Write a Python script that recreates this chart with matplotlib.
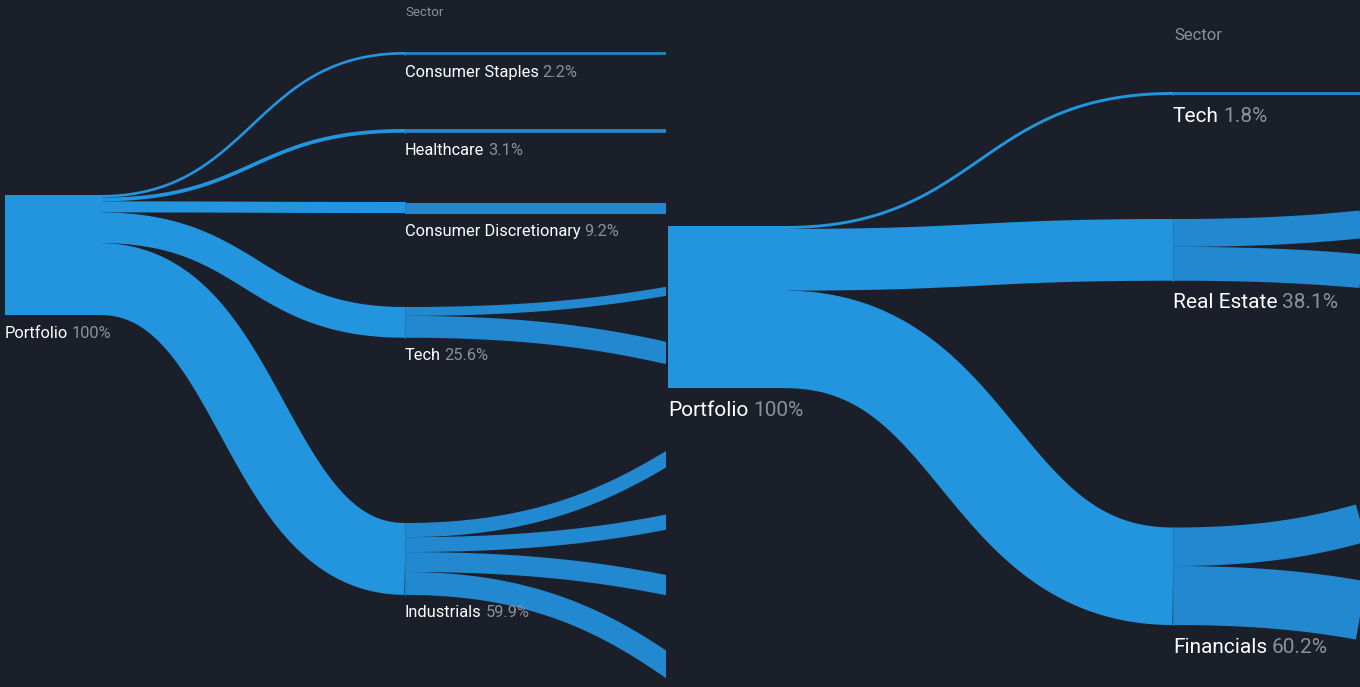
import numpy as np
import matplotlib.pyplot as plt
from matplotlib.patches import Rectangle

# ---- data ----
left_sectors = ['Consumer Staples', 'Healthcare', 'Consumer Discretionary', 'Tech', 'Industrials']
left_weights = [2.2, 3.1, 9.2, 25.6, 59.9]
left_sub = [[2.2], [3.1], [9.2], [7.4, 18.2], [11.8, 12.4, 16.6, 19.1]]

right_sectors = ['Tech', 'Real Estate', 'Financials']
right_weights = [1.8, 38.1, 60.2]
right_sub = [[1.8], [17.2, 20.9], [23.8, 36.4]]

# ---- layout (pixel space of the 1360x687 canvas) ----
left_nodes_top = [52, 129, 202, 307, 523]
left_sub_target = [[52], [129], [202], [253, 386], [333, 477, 614, 789]]
right_nodes_top = [92, 219, 527.5]
right_sub_target = [[92], [196, 266.5], [464, 606]]

BG = '#1b1f2a'
C1 = '#2395df'
C2 = '#2288cf'
WHITE = '#ffffff'
GRAY = '#8b9099'
FONT = ['Roboto', 'DejaVu Sans']

plt.rcParams['font.family'] = FONT


def bez(x0, y0, x1, y1, n=120):
    t = np.linspace(0, 1, n)
    xm = (x0 + x1) / 2
    x = x0 * (1 - t) ** 3 + 3 * xm * t * (1 - t) + x1 * t ** 3
    y = y0 * ((1 - t) ** 3 + 3 * (1 - t) ** 2 * t) + y1 * (3 * (1 - t) * t ** 2 + t ** 3)
    return x, y


def link(ax, x0, y0, x1, y1, w, color):
    x, y = bez(x0, y0 + w / 2, x1, y1 + w / 2)
    ax.plot(x, y, color=color, lw=w * 0.72, solid_capstyle='butt', zorder=2)


def label(ax, x, y, name, pct, size):
    t = ax.text(x, y, name, color=WHITE, fontsize=size,
                va='center', ha='left', zorder=5)
    ax.annotate(pct, xy=(1, 0.5), xycoords=t, xytext=(size * 0.22, 0),
                textcoords='offset points', color=GRAY, fontsize=size,
                va='center', ha='left', zorder=5)


def panel(ax, sectors, weights, subs, tops, sub_targets, src_box, col_x, next_x,
          scale, lab_off, fsize, sec_xy, sec_size):
    px0, px1, py0 = src_box
    total = sum(weights)
    # node drawn a bit past the link start so no seam shows
    ax.add_patch(Rectangle((px0, py0), px1 - px0 + 2, total * scale, color=C1, lw=0, zorder=3))
    label(ax, px0, py0 + total * scale + lab_off, 'Portfolio', '100%', fsize)
    ax.text(sec_xy[0], sec_xy[1], 'Sector', color=GRAY, fontsize=sec_size, va='center', ha='left')

    y_src = py0
    for name, w, sub, top, stg in zip(sectors, weights, subs, tops, sub_targets):
        h = w * scale
        link(ax, px1, y_src, col_x, top, h, C1)
        y_src += h
        ys = top
        for v, tg in zip(sub, stg):
            hh = v * scale
            link(ax, col_x, ys, next_x, tg, hh, C2)
            ys += hh
        ax.plot([col_x, col_x], [top, top + h], color='#1f7cbd', lw=0.8, zorder=4)
        label(ax, col_x, top + h + lab_off, name, f'{w}%', fsize)


fig = plt.figure(figsize=(13.6, 6.87), dpi=100, facecolor=BG)

axl = fig.add_axes([0, 0, 666 / 1360, 1])
axr = fig.add_axes([666 / 1360, 0, 694 / 1360, 1])
for ax, lo, hi in [(axl, 0, 666), (axr, 666, 1360)]:
    ax.set_xlim(lo, hi)
    ax.set_ylim(687, 0)
    ax.set_facecolor(BG)
    ax.axis('off')

panel(axl, left_sectors, left_weights, left_sub, left_nodes_top, left_sub_target,
      (5, 100, 195), 405, 1005, 1.2, 18, 11.8, (405, 12), 9.5)
panel(axr, right_sectors, right_weights, right_sub, right_nodes_top, right_sub_target,
      (668, 785, 226), 1173, 1605, 1.62, 22, 15, (1174, 36), 12)

fig.savefig('out.png', dpi=100, facecolor=BG)
